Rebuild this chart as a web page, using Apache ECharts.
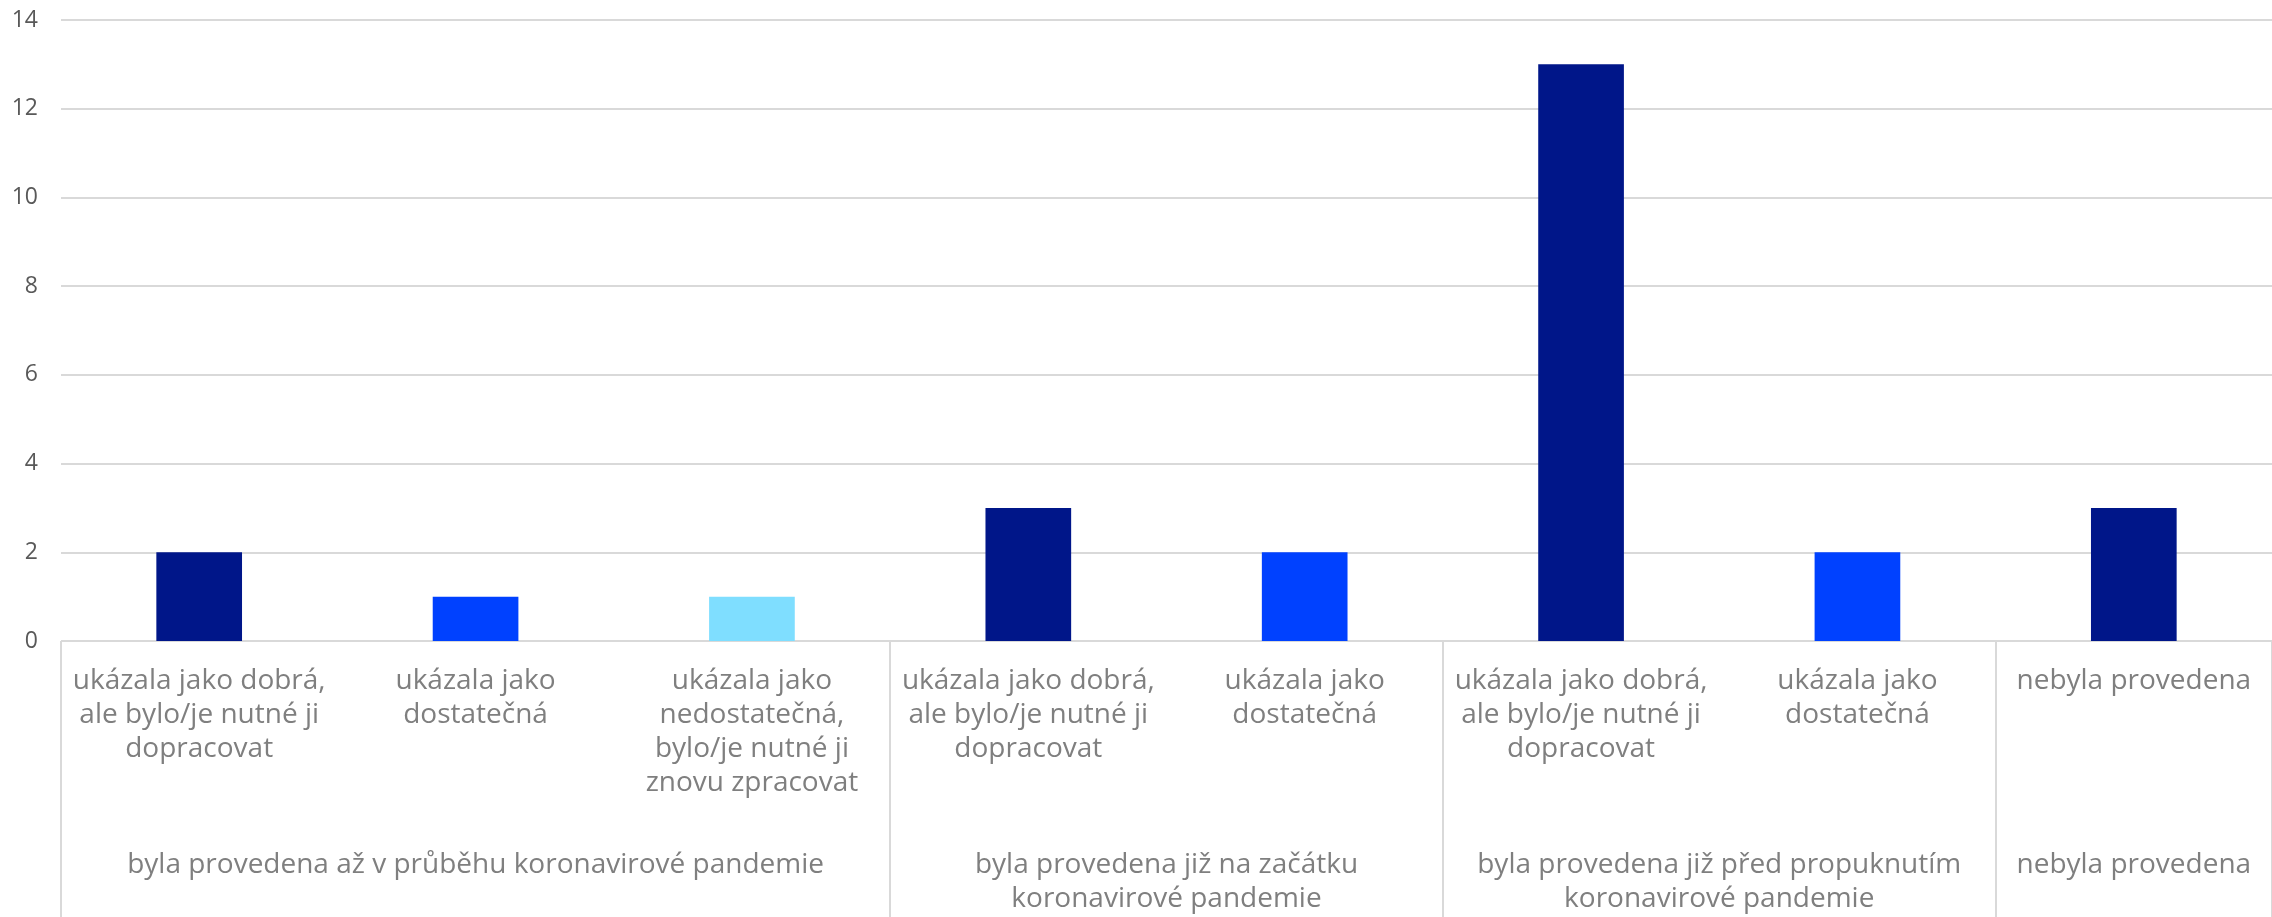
<!DOCTYPE html>
<html>
<head>
<meta charset="utf-8">
<script src="https://cdn.jsdelivr.net/npm/echarts@6/dist/echarts.min.js"></script>
<style>
  html, body { margin: 0; padding: 0; background: #fff; }
  #chart { width: 2272px; height: 917px; }
</style>
</head>
<body>
<div id="chart"></div>
<script>
var CATEGORIES = [
  'ukázala jako dobrá,\nale bylo/je nutné ji\ndopracovat',
  'ukázala jako\ndostatečná',
  'ukázala jako\nnedostatečná,\nbylo/je nutné ji\nznovu zpracovat',
  'ukázala jako dobrá,\nale bylo/je nutné ji\ndopracovat',
  'ukázala jako\ndostatečná',
  'ukázala jako dobrá,\nale bylo/je nutné ji\ndopracovat',
  'ukázala jako\ndostatečná',
  'nebyla provedena'
];
var RATINGS = ['dobra', 'dostatecna', 'nedostatecna', 'dobra', 'dostatecna', 'dobra', 'dostatecna', 'neprovedena'];
var VALUES = [2, 1, 1, 3, 2, 13, 2, 3];
var GROUPS = [
  'byla provedena až v průběhu koronavirové pandemie',
  'byla provedena již na začátku\nkoronavirové pandemie',
  'byla provedena již před propuknutím\nkoronavirové pandemie',
  'nebyla provedena'
];
var GROUP_SIZES = [3, 2, 2, 1];

var PALETTE = {
  dobra: '#001689',
  dostatecna: '#0041ff',
  nedostatecna: '#7fdeff',
  neprovedena: '#001689'
};
var FONT = '"Open Sans", "Noto Sans", sans-serif';

// group boundaries and centres on a 0..N value scale
var bounds = [0], centres = [];
GROUP_SIZES.forEach(function (n) {
  var start = bounds[bounds.length - 1];
  centres.push(start + n / 2);
  bounds.push(start + n);
});

var chart = echarts.init(document.getElementById('chart'), null, { renderer: 'canvas' });

chart.setOption({
  animation: false,
  grid: { left: 61, top: 20, width: 2224, height: 621, containLabel: false },
  xAxis: [{
    type: 'category',
    data: CATEGORIES,
    position: 'bottom',
    axisLine: { show: false },
    axisTick: { show: false },
    axisLabel: {
      interval: 0,
      margin: 23,
      color: '#7f7f7f',
      fontFamily: FONT,
      fontSize: 28,
      lineHeight: 34
    }
  }, {
    type: 'value',
    min: 0,
    max: CATEGORIES.length,
    position: 'bottom',
    axisLine: { show: false },
    splitLine: { show: false },
    axisTick: {
      show: true,
      customValues: bounds,
      length: 300,
      lineStyle: { color: '#d9d9d9', width: 2 }
    },
    axisLabel: {
      customValues: centres,
      margin: 207,
      color: '#7f7f7f',
      fontFamily: FONT,
      fontSize: 28,
      lineHeight: 34,
      formatter: function (v) {
        var i = centres.indexOf(v);
        return i >= 0 ? GROUPS[i] : '';
      }
    }
  }],
  yAxis: {
    type: 'value',
    min: 0,
    max: 14,
    interval: 2,
    axisLine: { show: false },
    axisTick: { show: false },
    splitLine: { lineStyle: { color: '#d9d9d9', width: 2 } },
    axisLabel: {
      margin: 23,
      color: '#595959',
      fontFamily: FONT,
      fontSize: 23
    }
  },
  series: [{
    type: 'bar',
    xAxisIndex: 0,
    barWidth: '31%',
    data: VALUES.map(function (v, i) {
      return { value: v, itemStyle: { color: PALETTE[RATINGS[i]] } };
    })
  }]
});
</script>
</body>
</html>
